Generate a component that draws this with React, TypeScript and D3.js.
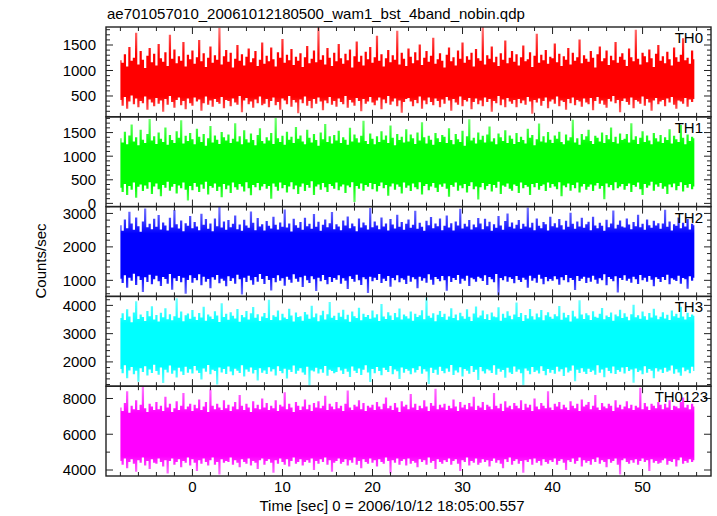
import React from 'react';
import * as d3 from 'd3';

const TITLE = "ae701057010_20061012180500_wam1_bst_4band_nobin.qdp";
const X_LABEL = "Time [sec] 0 = 2006/10/12 18:05:00.557";
const Y_LABEL = "Counts/sec";
const START_TIME = -8;
const BIN_SEC = 0.25;

// Per-bin (0.25 s) upper and lower extent of the light curve.
const TH0_HI = [
  1200, 1150, 1320, 1080, 1460, 1190, 1250, 1740, 1120, 1380, 1210, 1050, 1290, 1440, 1160, 1330,
  1100, 1520, 1240, 1170, 1360, 1090, 1700, 1230, 1410, 1140, 1280, 1190, 1560, 1080, 1310, 1220,
  1390, 1130, 1260, 1600, 1180, 1340, 1070, 1250, 1470, 1150, 1300, 1210, 1840, 1120, 1280, 1400,
  1170, 1350, 1060, 1230, 1500, 1190, 1320, 1100, 1270, 1430, 1160, 1240, 1380, 1090, 1210, 1550,
  1130, 1290, 1180, 1450, 1220, 1080, 1360, 1250, 1620, 1150, 1310, 1200, 1420, 1110, 1270, 1190,
  1340, 1070, 1260, 1480, 1140, 1230, 1390, 1160, 1850, 1210, 1300, 1120, 1440, 1250, 1090, 1350,
  1180, 1520, 1240, 1130, 1330, 1200, 1410, 1060, 1280, 1570, 1170, 1290, 1100, 1370, 1220, 1460,
  1150, 1260, 1680, 1190, 1320, 1080, 1240, 1400, 1160, 1300, 1210, 1780, 1120, 1350, 1230, 1090,
  1430, 1270, 1140, 1360, 1200, 1510, 1110, 1250, 1380, 1170, 1290, 1640, 1130, 1220, 1340, 1190,
  1060, 1310, 1450, 1180, 1260, 1100, 1390, 1230, 1550, 1150, 1280, 1210, 1350, 1080, 1420, 1240,
  1190, 1870, 1120, 1300, 1230, 1470, 1160, 1270, 1090, 1340, 1210, 1590, 1140, 1250, 1380, 1170,
  1320, 1100, 1260, 1490, 1180, 1220, 1360, 1070, 1290, 1720, 1150, 1310, 1200, 1400, 1130, 1270,
  1240, 1530, 1160, 1330, 1090, 1280, 1210, 1440, 1120, 1350, 1190, 1260, 1610, 1140, 1300, 1230,
  1170, 1380, 1250, 1060, 1320, 1470, 1180, 1240, 1390, 1110, 1290, 1200, 1560, 1150, 1270, 1340,
  1210, 1090, 1430, 1260, 1180, 1800, 1230, 1120, 1350, 1280, 1160, 1410, 1240, 1070, 1330, 1500,
  1190, 1280, 1140, 1370, 1220, 1100, 1450, 1260, 1170, 1310, 1630, 1200, 1250, 1130, 1390, 1220,
];
const TH0_LO = [
  420, 310, 480, 250, 390, 510, 340, 450, 280, 400, 360, 490, 230, 430, 370, 300,
  460, 350, 410, 190, 440, 330, 500, 380, 270, 420, 470, 320, 400, 240, 450, 360,
  310, 470, 390, 430, 210, 360, 490, 330, 410, 290, 440, 380, 350, 480, 260, 420,
  400, 300, 450, 370, 330, 500, 180, 410, 460, 340, 390, 270, 430, 360, 490, 320,
  350, 440, 280, 400, 470, 320, 380, 230, 450, 410, 340, 500, 290, 420, 370, 160,
  430, 360, 490, 310, 400, 260, 440, 350, 470, 390, 220, 410, 360, 480, 330, 400,
  290, 450, 380, 340, 500, 270, 420, 370, 310, 460, 400, 200, 440, 350, 390, 480,
  370, 320, 410, 470, 240, 430, 360, 500, 330, 390, 450, 300, 410, 170, 380, 440,
  460, 390, 300, 420, 360, 490, 250, 410, 340, 470, 380, 320, 450, 400, 280, 430,
  350, 480, 410, 210, 440, 370, 330, 490, 300, 420, 390, 460, 240, 380, 450, 340,
  410, 300, 470, 380, 440, 190, 400, 360, 500, 320, 430, 280, 460, 390, 350, 420,
  280, 440, 360, 410, 330, 480, 390, 150, 420, 370, 450, 310, 400, 470, 260, 390,
  430, 350, 490, 300, 410, 380, 230, 440, 360, 470, 320, 420, 390, 290, 450, 370,
  340, 460, 220, 400, 480, 350, 410, 330, 270, 440, 390, 500, 360, 420, 180, 400,
  450, 380, 330, 470, 260, 420, 390, 350, 490, 310, 440, 370, 210, 410, 460, 340,
  390, 420, 300, 450, 370, 480, 330, 250, 410, 390, 350, 460, 290, 430, 380, 440,
];

const TH1_HI = [
  1380, 1290, 1520, 1250, 1440, 1670, 1310, 1400, 1230, 1560, 1350, 1280, 1470, 1790, 1330, 1420,
  1260, 1500, 1370, 1300, 1610, 1240, 1450, 1340, 1280, 1530, 1390, 1760, 1270, 1430, 1320, 1490,
  1360, 1250, 1580, 1410, 1300, 1470, 1220, 1380, 1640, 1290, 1440, 1350, 1260, 1510, 1400, 1330,
  1460, 1280, 1370, 1700, 1310, 1420, 1250, 1550, 1360, 1290, 1480, 1340, 1230, 1450, 1590, 1320,
  1270, 1400, 1330, 1490, 1260, 1810, 1380, 1300, 1430, 1240, 1520, 1350, 1410, 1280, 1620, 1370,
  1440, 1310, 1250, 1560, 1390, 1290, 1470, 1340, 1220, 1500, 1360, 1680, 1300, 1420, 1270, 1450,
  1330, 1540, 1280, 1400, 1350, 1240, 1600, 1310, 1460, 1380, 1290, 1430, 1750, 1320, 1260, 1480,
  1370, 1250, 1420, 1300, 1530, 1350, 1440, 1280, 1650, 1390, 1230, 1470, 1340, 1410, 1290, 1570,
  1310, 1460, 1380, 1260, 1500, 1330, 1720, 1400, 1270, 1430, 1350, 1240, 1490, 1380, 1300, 1450,
  1410, 1280, 1590, 1340, 1250, 1470, 1360, 1300, 1540, 1220, 1420, 1780, 1330, 1390, 1270, 1500,
  1350, 1430, 1290, 1460, 1630, 1310, 1380, 1250, 1480, 1400, 1320, 1550, 1280, 1440, 1370, 1260,
  1490, 1300, 1410, 1340, 1270, 1580, 1390, 1450, 1230, 1360, 1690, 1310, 1420, 1290, 1510, 1350,
  1280, 1440, 1370, 1520, 1300, 1250, 1460, 1330, 1400, 1770, 1290, 1380, 1240, 1470, 1350, 1420,
  1560, 1320, 1260, 1430, 1390, 1310, 1500, 1280, 1450, 1360, 1610, 1300, 1410, 1270, 1480, 1340,
  1370, 1470, 1290, 1700, 1350, 1420, 1260, 1390, 1530, 1300, 1440, 1330, 1250, 1490, 1380, 1310,
  1450, 1280, 1400, 1340, 1570, 1270, 1430, 1360, 1300, 1660, 1390, 1250, 1460, 1320, 1410, 1380,
];
const TH1_LO = [
  330, 240, 410, 180, 370, 290, 440, 120, 350, 400, 260, 380, 310, 450, 200, 360,
  420, 300, 150, 390, 330, 460, 270, 350, 410, 210, 380, 320, 440, 290, 60, 370,
  280, 430, 350, 240, 400, 310, 460, 190, 370, 330, 420, 260, 350, 130, 410, 300,
  380, 220, 440, 340, 290, 410, 360, 250, 450, 320, 170, 390, 340, 430, 280, 360,
  410, 310, 370, 100, 420, 350, 270, 440, 320, 390, 230, 360, 450, 300, 380, 200,
  350, 420, 260, 390, 330, 470, 180, 360, 400, 290, 430, 340, 240, 410, 370, 310,
  440, 280, 360, 400, 220, 380, 340, 450, 30, 370, 310, 420, 270, 390, 350, 430,
  300, 410, 250, 370, 440, 320, 390, 160, 360, 420, 290, 400, 350, 210, 440, 330,
  380, 260, 420, 340, 300, 450, 190, 370, 410, 280, 360, 430, 330, 240, 400, 350,
  420, 310, 140, 390, 350, 440, 270, 380, 320, 410, 230, 370, 450, 300, 360, 80,
  340, 430, 290, 370, 410, 250, 390, 330, 460, 200, 380, 350, 420, 310, 270, 400,
  370, 220, 440, 320, 390, 350, 180, 410, 340, 430, 290, 370, 400, 260, 440, 330,
  410, 360, 300, 450, 150, 380, 340, 420, 270, 390, 320, 440, 230, 360, 410, 290,
  350, 400, 260, 380, 430, 310, 370, 90, 420, 340, 390, 280, 450, 320, 360, 410,
  290, 370, 420, 240, 390, 350, 440, 300, 180, 410, 330, 380, 460, 270, 400, 350,
  430, 310, 360, 200, 400, 340, 420, 280, 370, 450, 250, 390, 330, 410, 300, 360,
];

const TH2_HI = [
  2650, 2480, 2820, 2560, 3050, 2700, 2510, 2880, 2620, 2450, 2760, 3150, 2590, 2690, 2530, 2840,
  2600, 2950, 2520, 2730, 2640, 2490, 2870, 2580, 3100, 2680, 2550, 2790, 2470, 2710, 2630, 2920,
  2560, 2740, 2610, 2500, 2990, 2660, 2830, 2540, 2700, 2470, 2850, 2620, 3200, 2580, 2760, 2510,
  2800, 2590, 2690, 2940, 2530, 2670, 2480, 2810, 2640, 2570, 3060, 2720, 2500, 2860, 2610, 2680,
  2490, 2770, 2630, 2550, 2900, 2660, 2520, 2730, 2600, 3120, 2580, 2700, 2460, 2840, 2650, 2570,
  2740, 2510, 2870, 2620, 2690, 2540, 2980, 2600, 2750, 2480, 2660, 2820, 2590, 2710, 3040, 2530,
  2680, 2610, 2500, 2790, 2640, 2910, 2560, 2700, 2620, 2470, 2850, 2580, 2730, 2650, 2520, 3160,
  2590, 2760, 2640, 2530, 2880, 2610, 2700, 2490, 2830, 2670, 2550, 2960, 2600, 2740, 2510, 2690,
  2820, 2570, 2660, 3080, 2540, 2720, 2600, 2480, 2780, 2650, 2890, 2560, 2700, 2620, 2850, 2500,
  2630, 2940, 2580, 2710, 2490, 2760, 2640, 3140, 2550, 2690, 2610, 2800, 2520, 2670, 2590, 2860,
  2700, 2530, 2840, 2620, 2750, 2480, 2680, 2570, 2920, 2640, 2510, 2770, 3000, 2600, 2730, 2550,
  2660, 2800, 2540, 2690, 2610, 3180, 2580, 2720, 2500, 2850, 2630, 2560, 2740, 2680, 2490, 2900,
  2620, 2710, 2580, 2830, 2650, 2520, 2780, 2600, 3020, 2690, 2540, 2760, 2610, 2870, 2570, 2680,
  2750, 2500, 2900, 2640, 2560, 2720, 2630, 2480, 2810, 2590, 2700, 3090, 2550, 2660, 2790, 2610,
  2580, 2850, 2670, 2530, 2740, 2620, 2960, 2590, 2690, 2510, 2820, 2650, 2570, 2780, 2640, 2710,
  2540, 2700, 3110, 2600, 2760, 2490, 2680, 2630, 2880, 2560, 2720, 2610, 2830, 2520, 2690, 2650,
];
const TH2_LO = [
  1050, 920, 1150, 780, 1080, 990, 1200, 860, 1120, 1010, 650, 1090, 950, 1170, 880, 1030,
  1140, 970, 830, 1100, 1040, 900, 1190, 720, 1060, 980, 1130, 940, 1080, 600, 1010, 1150,
  930, 1070, 1000, 1180, 850, 1110, 960, 1040, 760, 1090, 1020, 1160, 910, 1050, 990, 820,
  1120, 980, 1060, 900, 1170, 1030, 580, 1080, 950, 1140, 1000, 870, 1100, 960, 1190, 1040,
  890, 1130, 1010, 700, 1070, 940, 1150, 990, 1060, 840, 1110, 1020, 930, 1180, 1050, 960,
  1090, 800, 1140, 1000, 920, 1120, 1030, 680, 1080, 970, 1160, 1010, 880, 1100, 950, 1070,
  1020, 1150, 900, 1060, 990, 740, 1120, 1040, 960, 1170, 1000, 860, 1090, 1030, 620, 1110,
  970, 1080, 1010, 1190, 920, 1050, 980, 1130, 810, 1070, 1000, 1150, 940, 1060, 1020, 890,
  1140, 960, 1090, 1030, 760, 1110, 990, 1060, 930, 1180, 1020, 870, 1100, 1040, 970, 1130,
  1000, 690, 1120, 950, 1070, 1010, 1160, 900, 1050, 990, 1140, 830, 1080, 1030, 960, 1110,
  1060, 980, 1150, 860, 1100, 1030, 940, 1190, 560, 1070, 1000, 1120, 960, 1090, 1040, 910,
  1130, 1010, 950, 1080, 1020, 780, 1140, 990, 1060, 930, 1170, 1050, 880, 1100, 970, 1040,
  990, 1120, 1030, 870, 1090, 1000, 1160, 940, 1070, 1010, 710, 1130, 980, 1050, 1110, 920,
  1080, 960, 1140, 1020, 900, 1060, 1000, 1180, 850, 1100, 1040, 970, 1120, 640, 1070, 1010,
  1150, 990, 1050, 930, 1110, 1030, 890, 1160, 1000, 1080, 960, 1130, 1020, 820, 1090, 1040,
  950, 1100, 1010, 1170, 880, 1060, 1020, 980, 1140, 900, 1070, 1030, 750, 1120, 990, 1080,
];

const TH3_HI = [
  3550, 3720, 3480, 3860, 3610, 3400, 3750, 4150, 3520, 3680, 3590, 3450, 3800, 3620, 3970, 3500,
  3660, 3430, 3740, 3580, 3900, 3510, 3690, 3470, 3620, 4250, 3560, 3780, 3440, 3650, 3710, 3530,
  3840, 3600, 3480, 3730, 3570, 3950, 3460, 3680, 3610, 3520, 3790, 3640, 3410, 4080, 3590, 3700,
  3490, 3760, 3630, 3540, 3870, 3420, 3660, 3580, 3800, 3500, 3720, 3940, 3560, 3690, 3450, 3610,
  3730, 3550, 4200, 3480, 3650, 3600, 3820, 3470, 3700, 3570, 3520, 3880, 3640, 3430, 3750, 3590,
  3620, 3460, 3770, 3680, 3530, 3990, 3580, 3710, 3440, 3650, 3810, 3500, 3690, 4120, 3560, 3630,
  3480, 3740, 3600, 3850, 3510, 3670, 3420, 3780, 3620, 3550, 3920, 3470, 3700, 3590, 3660, 3530,
  3820, 3570, 3690, 3450, 4050, 3610, 3520, 3760, 3640, 3480, 3730, 3580, 3890, 3500, 3680, 3620,
  3540, 3780, 3460, 3700, 3590, 3650, 3830, 3510, 4280, 3630, 3560, 3720, 3440, 3670, 3800, 3590,
  3700, 3490, 3610, 3900, 3550, 3680, 3470, 3740, 3620, 3530, 3860, 3600, 3450, 3710, 3960, 3570,
  3640, 3820, 3520, 3690, 3480, 3750, 3610, 3580, 3930, 3460, 3700, 3560, 3790, 3630, 3510, 3680,
  4100, 3590, 3730, 3450, 3660, 3540, 3870, 3620, 3500, 3710, 3580, 3840, 3470, 3650, 3760, 3600,
  3530, 3690, 3620, 3980, 3490, 3740, 3570, 3660, 3430, 3810, 3610, 3540, 4180, 3680, 3520, 3720,
  3650, 3480, 3790, 3600, 3560, 3700, 3910, 3510, 3640, 3590, 3750, 3460, 3680, 3620, 3850, 3550,
  3720, 3600, 3470, 3690, 4020, 3580, 3650, 3530, 3780, 3620, 3490, 3730, 3570, 3880, 3640, 3510,
  3600, 3760, 3540, 3670, 3480, 3820, 3620, 3700, 3560, 3950, 3610, 3500, 3740, 3590, 3680, 3630,
];
const TH3_LO = [
  1750, 1600, 1880, 1420, 1700, 1820, 1560, 1690, 1300, 1780, 1640, 1850, 1520, 1730, 1610, 1900,
  1680, 1550, 1800, 1250, 1720, 1630, 1870, 1580, 1700, 1450, 1790, 1660, 1540, 1830, 1620, 1740,
  1590, 1860, 1700, 1610, 1380, 1770, 1650, 1890, 1560, 1720, 1680, 1200, 1800, 1630, 1750, 1570,
  1840, 1660, 1530, 1760, 1690, 1610, 1880, 1480, 1730, 1650, 1800, 1590, 1710, 1340, 1780, 1620,
  1700, 1570, 1810, 1660, 1740, 1520, 1850, 1680, 1600, 1760, 1410, 1720, 1640, 1870, 1580, 1690,
  1780, 1630, 1550, 1830, 1160, 1700, 1660, 1790, 1590, 1740, 1620, 1860, 1510, 1720, 1680, 1600,
  1640, 1810, 1700, 1570, 1760, 1650, 1470, 1840, 1690, 1610, 1770, 1540, 1720, 1880, 1630, 1290,
  1750, 1600, 1820, 1680, 1530, 1790, 1710, 1640, 1860, 1560, 1730, 1670, 1400, 1800, 1620, 1750,
  1690, 1560, 1780, 1630, 1710, 1850, 1580, 1740, 1660, 1220, 1790, 1610, 1720, 1550, 1830, 1680,
  1600, 1770, 1650, 1890, 1540, 1700, 1630, 1810, 1480, 1750, 1690, 1580, 1860, 1640, 1720, 1360,
  1820, 1670, 1590, 1740, 1700, 1610, 1880, 1550, 1760, 1650, 1710, 1440, 1790, 1630, 1570, 1840,
  1650, 1730, 1600, 1180, 1770, 1690, 1560, 1820, 1640, 1700, 1590, 1850, 1680, 1530, 1750, 1620,
  1710, 1580, 1830, 1660, 1740, 1500, 1800, 1630, 1690, 1870, 1320, 1720, 1610, 1780, 1650, 1570,
  1760, 1640, 1700, 1550, 1880, 1620, 1730, 1460, 1790, 1680, 1600, 1840, 1570, 1710, 1650, 1800,
  1590, 1820, 1680, 1730, 1260, 1770, 1640, 1700, 1560, 1850, 1620, 1750, 1690, 1420, 1780, 1660,
  1730, 1610, 1790, 1650, 1700, 1870, 1580, 1740, 1630, 1510, 1800, 1670, 1720, 1600, 1830, 1680,
];

const TH0123_HI = [
  7500, 7300, 7750, 8400, 7200, 7600, 7400, 7900, 7350, 7650, 8650, 7450, 7250, 7700, 7550, 7350,
  7800, 7400, 7600, 7300, 8100, 7500, 7700, 7250, 7450, 7850, 7350, 7600, 8300, 7400, 7550, 7700,
  7300, 7650, 7450, 7950, 7350, 7550, 7800, 7250, 8500, 7600, 7400, 7700, 7500, 7350, 7900, 7450,
  7650, 7300, 7550, 7800, 7400, 8200, 7600, 7350, 7700, 7500, 7250, 7850, 7450, 7650, 7400, 8000,
  7500, 7750, 7350, 7600, 7450, 7900, 7300, 7650, 7550, 8350, 7400, 7700, 7500, 7250, 7800, 7600,
  7350, 7550, 7950, 7400, 7650, 7300, 7750, 7500, 7850, 7450, 7600, 8150, 7350, 7700, 7550, 7400,
  7800, 7450, 7600, 7300, 7700, 8450, 7500, 7350, 7650, 7550, 7900, 7400, 7750, 7300, 7600, 7500,
  7650, 7350, 7800, 7550, 7400, 7700, 8050, 7450, 7600, 7350, 7750, 7500, 7250, 7850, 7550, 7650,
  7400, 8250, 7500, 7700, 7350, 7600, 7450, 7900, 7550, 7300, 7750, 7600, 8550, 7400, 7650, 7500,
  7700, 7350, 7600, 7450, 7950, 7550, 7300, 7800, 7500, 7650, 7400, 7750, 7550, 8100, 7350, 7600,
  7500, 7800, 7350, 7650, 7550, 7400, 8300, 7600, 7450, 7700, 7300, 7850, 7500, 7600, 7400, 7750,
  7600, 7450, 7900, 7350, 7700, 7500, 7650, 7300, 8000, 7550, 7400, 7750, 7600, 7450, 8400, 7500,
  7350, 7700, 7550, 7800, 7400, 7650, 7500, 7350, 7850, 7600, 7450, 7700, 7300, 7950, 7550, 7650,
  7800, 7400, 7600, 8200, 7500, 7350, 7750, 7550, 7450, 7700, 7600, 7300, 7900, 7500, 7650, 7400,
  7550, 7850, 7450, 7650, 7350, 7600, 7500, 8600, 7400, 7750, 7550, 7350, 7700, 7600, 7450, 7800,
  7650, 7400, 7700, 7500, 7900, 7350, 7600, 7550, 7450, 7800, 8050, 7500, 7650, 7400, 7700, 7550,
];
const TH0123_LO = [
  4500, 4300, 4650, 4100, 4450, 4600, 4350, 3900, 4550, 4400, 4700, 4250, 4500, 4050, 4600, 4400,
  4350, 4650, 4450, 4200, 4550, 3800, 4500, 4650, 4300, 4450, 4600, 4150, 4500, 4400, 4700, 4250,
  4600, 4400, 3950, 4550, 4350, 4650, 4450, 4250, 4550, 4700, 4300, 4450, 3750, 4600, 4400, 4500,
  4450, 4700, 4300, 4550, 4400, 4150, 4600, 4450, 4350, 4650, 4250, 4500, 4400, 4050, 4550, 4650,
  4300, 4500, 4600, 4400, 3850, 4550, 4350, 4650, 4450, 4300, 4600, 4200, 4500, 4700, 4350, 4450,
  4600, 4250, 4450, 4550, 4400, 4650, 4000, 4500, 4350, 4600, 4450, 4700, 4300, 4550, 3900, 4400,
  4500, 4650, 4350, 4450, 4600, 4250, 4550, 4400, 4700, 4300, 4500, 4100, 4600, 4450, 4350, 4650,
  4400, 4550, 4200, 4600, 4450, 4350, 4700, 4500, 3800, 4550, 4400, 4650, 4300, 4500, 4600, 4250,
  4650, 4350, 4500, 4400, 4150, 4600, 4450, 4550, 4300, 4700, 4400, 4500, 4050, 4600, 4450, 4350,
  4550, 4450, 4650, 4300, 4500, 4600, 4350, 3950, 4550, 4450, 4700, 4250, 4500, 4400, 4650, 4300,
  4400, 4600, 4450, 4550, 4200, 4500, 4650, 4400, 4550, 4350, 4100, 4600, 4450, 4700, 4300, 4500,
  4600, 4350, 4500, 3850, 4550, 4450, 4600, 4300, 4650, 4400, 4500, 4250, 4600, 4450, 4350, 4550,
  4450, 4650, 4300, 4500, 4600, 4400, 4000, 4550, 4450, 4650, 4350, 4500, 4700, 4200, 4550, 4400,
  4500, 4300, 4600, 4450, 4700, 4350, 4550, 4450, 4150, 4600, 4400, 4500, 4650, 4300, 3750, 4550,
  4650, 4450, 4350, 4550, 4400, 4600, 4300, 4500, 4650, 4450, 4550, 3950, 4600, 4400, 4500, 4350,
  4400, 4550, 4650, 4300, 4500, 4450, 4600, 4200, 4550, 4700, 4350, 4500, 4400, 4600, 4450, 4550,
];

const SERIES_HI = [TH0_HI, TH1_HI, TH2_HI, TH3_HI, TH0123_HI];
const SERIES_LO = [TH0_LO, TH1_LO, TH2_LO, TH3_LO, TH0123_LO];
const PANEL_NAMES = ["TH0", "TH1", "TH2", "TH3", "TH0123"];
const PANEL_COLORS = ["#ff0000", "#00ff00", "#0000ff", "#00ffff", "#ff00ff"];
const Y_DOMAINS: [number, number][] = [[92, 1853], [-68, 1834], [520, 3204], [1141, 4318], [3665, 8687]];
const Y_TICK_LABELS = [[500, 1000, 1500], [0, 500, 1000, 1500], [1000, 2000, 3000], [2000, 3000, 4000], [4000, 6000, 8000]];
const Y_MINOR_STEP = [100, 100, 200, 200, 1000];
const X_DOMAIN: [number, number] = [-9.6, 57.6];
const X_TICK_LABELS = [0, 10, 20, 30, 40, 50];
const X_MINOR_STEP = 2;

const W = 717, H = 516;
const LEFT = 106, RIGHT = 711, TOP = 27, BOTTOM = 476;
const FONT = '"Liberation Sans", Arial, Helvetica, sans-serif';
const AXIS = '#222';

export default function App() {
  const x = d3.scaleLinear().domain(X_DOMAIN).range([LEFT, RIGHT]);
  const ph = (BOTTOM - TOP) / SERIES_HI.length;
  const xMinor = d3.range(-8, 57, X_MINOR_STEP);

  return (
    <svg width={W} height={H} style={{ position: 'absolute', left: 0, top: 0, background: '#fff' }}>
      <rect x={0} y={0} width={W} height={H} fill="#fff" />
      <text x={107} y={19} fontFamily={FONT} fontSize={15} fill="#000">{TITLE}</text>
      {SERIES_HI.map((hi, p) => {
        const lo = SERIES_LO[p];
        const top = TOP + p * ph;
        const bot = top + ph;
        const y = d3.scaleLinear().domain(Y_DOMAINS[p]).range([bot, top]);
        const idx = d3.range(hi.length);
        const area = d3.area<number>()
          .x((i) => x(START_TIME + i * BIN_SEC))
          .y0((i) => y(lo[i]))
          .y1((i) => y(hi[i]))
          .curve(d3.curveStep);
        const [d0, d1] = Y_DOMAINS[p];
        const step = Y_MINOR_STEP[p];
        const yMinor = d3.range(Math.ceil(d0 / step) * step, d1, step);
        const majors = Y_TICK_LABELS[p];
        const col = PANEL_COLORS[p];
        return (
          <g key={p}>
            <defs>
              <clipPath id={`clip${p}`}>
                <rect x={LEFT} y={top} width={RIGHT - LEFT} height={ph} />
              </clipPath>
              <linearGradient id={`grad${p}`} gradientUnits="userSpaceOnUse" x1={0} x2={0} y1={top} y2={bot}>
                <stop offset="0" stopColor={col} stopOpacity={0.5} />
                <stop offset="0.3" stopColor={col} stopOpacity={1} />
                <stop offset="0.78" stopColor={col} stopOpacity={1} />
                <stop offset="1" stopColor={col} stopOpacity={0.5} />
              </linearGradient>
            </defs>
            <path d={area(idx) || ''} fill={`url(#grad${p})`} clipPath={`url(#clip${p})`} />
            {yMinor.map((v) => {
              const isMaj = majors.includes(v);
              const len = isMaj ? 7 : 4;
              return (
                <g key={v} stroke={AXIS} strokeWidth={1}>
                  <line x1={LEFT} x2={LEFT + len} y1={y(v)} y2={y(v)} />
                  <line x1={RIGHT} x2={RIGHT - len} y1={y(v)} y2={y(v)} />
                </g>
              );
            })}
            {xMinor.map((t) => {
              const len = t % 10 === 0 ? 7 : 4;
              return (
                <g key={t} stroke={AXIS} strokeWidth={1}>
                  <line x1={x(t)} x2={x(t)} y1={top} y2={top + len} />
                  <line x1={x(t)} x2={x(t)} y1={bot} y2={bot - len} />
                </g>
              );
            })}
            <rect x={LEFT} y={top} width={RIGHT - LEFT} height={ph} fill="none" stroke={AXIS} strokeWidth={1.4} />
            {majors.map((v) => (
              <text key={v} x={96} y={y(v)} dy="0.36em" textAnchor="end" fontFamily={FONT} fontSize={15} fill="#000">{v}</text>
            ))}
            <text x={PANEL_NAMES[p].length > 3 ? 708 : 703} y={top + 16} textAnchor="end" fontFamily={FONT} fontSize={15} fill="#000">{PANEL_NAMES[p]}</text>
          </g>
        );
      })}
      {X_TICK_LABELS.map((t) => (
        <text key={t} x={x(t)} y={492} textAnchor="middle" fontFamily={FONT} fontSize={15} fill="#000">{t}</text>
      ))}
      <text x={392} y={511} textAnchor="middle" fontFamily={FONT} fontSize={15} fill="#000">{X_LABEL}</text>
      <text transform="translate(46,261) rotate(-90)" textAnchor="middle" fontFamily={FONT} fontSize={15} fill="#000">{Y_LABEL}</text>
    </svg>
  );
}
